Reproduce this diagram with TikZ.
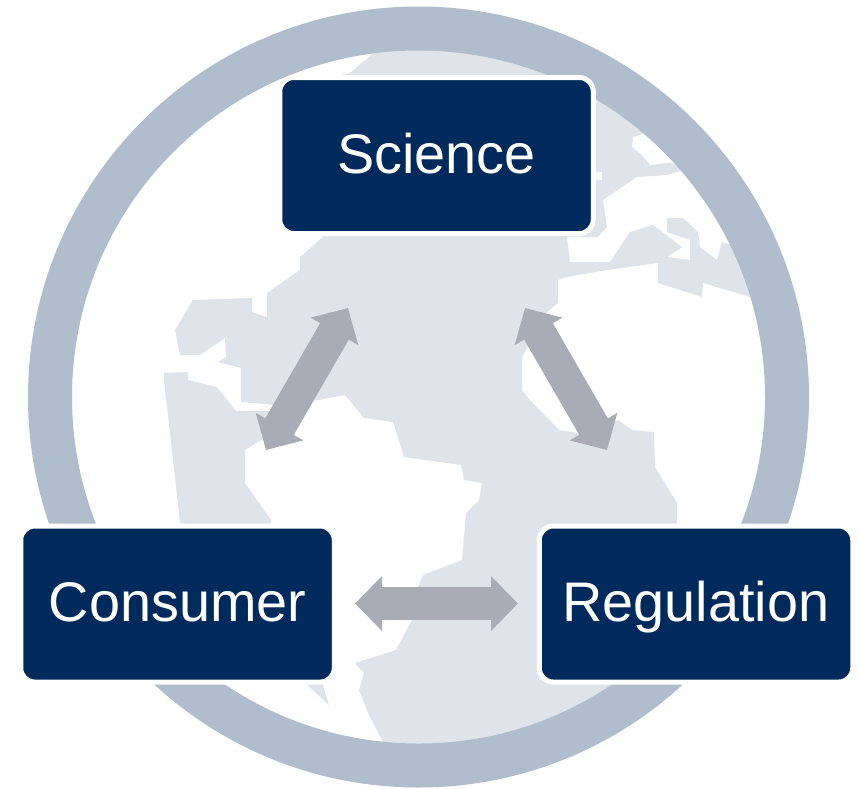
\documentclass[tikz,border=0pt]{standalone}
\usepackage{fontspec}
\setmainfont{Liberation Sans}
\usetikzlibrary{arrows.meta}
\definecolor{ringc}{HTML}{AFBDCD}
\definecolor{landc}{HTML}{DFE4EB}
\definecolor{boxc}{HTML}{002A5C}
\definecolor{arrowc}{HTML}{A9ACB5}
\tikzset{
  x=1pt,y=-1pt,
  boxnode/.style={draw=white,line width=5pt,fill=boxc,rounded corners=14pt,text=white,inner sep=0pt,
    minimum width=313.5pt,minimum height=156pt,text height=40pt,text depth=5pt,
    font=\fontsize{55.8pt}{60pt}\selectfont},
  link/.style={draw=arrowc,line width=33pt,
    {Triangle[length=27pt,width=53.4pt,fill=arrowc]}-{Triangle[length=27pt,width=53.4pt,fill=arrowc]}},
  land/.style={fill=landc,draw=none}
}
\begin{document}
\begin{tikzpicture}
\useasboundingbox (0,0) rectangle (858,788);
\fill[white] (0,0) rectangle (858,788);
\begin{scope}
  \clip (418.5,397) circle[radius=347pt];
  % main land mass
  \path[land] (400,30) -- (720,30) -- (720,110) -- (633,137) -- (632,147) -- (642,155) -- (650,165) -- (667,163)
    -- (700,165) -- (667,175) -- (637,177) -- (625,185) -- (603,200) -- (607,227) -- (598,237) -- (567,237)
    -- (570,262) -- (610,262) -- (630,232) -- (653,225) -- (682,247) -- (667,257) -- (690,260) -- (690,240)
    -- (667,232) -- (667,218) -- (683,218) -- (698,232) -- (700,247) -- (717,260) -- (722,242) -- (765,255)
    -- (790,300) -- (750,297) -- (703,283) -- (702,297) -- (658,283) -- (658,263) -- (607,270) -- (567,277)
    -- (558,280) -- (558,303) -- (547,312) -- (522,357) -- (522,390) -- (530,400) -- (559,430) -- (579,433)
    -- (618,420) -- (632,430) -- (654,432) -- (655,467) -- (677,503) -- (677,540) -- (700,690) -- (600,800)
    -- (382,800) -- (382,740) -- (368,713) -- (359,690) -- (364,673) -- (355,663) -- (396,650) -- (412,620)
    -- (418,587) -- (423,575) -- (462,560) -- (466,513) -- (479,500) -- (482,483) -- (464,480) -- (461,465)
    -- (404,457) -- (393,422) -- (364,418) -- (345,395) -- (318,400) -- (275,405) -- (241,402) -- (241,368)
    -- (218,362) -- (226,357) -- (225,338) -- (200,355) -- (180,355) -- (175,330) -- (193,300) -- (252,298)
    -- (252,312) -- (267,317) -- (267,293) -- (300,270) -- (300,257) -- (323,237) -- (340,75) -- (350,73) -- cycle;
  % left land block
  \path[land] (164,373) -- (188,372) -- (188,380) -- (217,387) -- (236,411) -- (285,411) -- (261,440)
    -- (245,450) -- (245,483) -- (271,520) -- (271,540) -- (182,540) -- (164,380) -- cycle;
  % small sliver below the left box
  \path[land] (304,682) -- (322,682) -- (329,705) -- cycle;
  % small spot beside the top box
  \fill[white] (595,172) rectangle (602,180);
\end{scope}
\draw[ringc,line width=44pt] (418.5,397) circle[radius=368.5pt];
\node[boxnode] (science) at (436.5,155.5) {Science};
\node[boxnode] (consumer) at (177.5,604) {Consumer};
\node[boxnode] (regulation) at (696,604) {Regulation};
\coordinate (scL) at (348,308);
\coordinate (coU) at (266,450);
\coordinate (scR) at (525,308);
\coordinate (reU) at (607,450);
\coordinate (coR) at (355,603.5);
\coordinate (reL) at (518,603.5);
\draw[link] (scL) -- (coU);
\draw[link] (scR) -- (reU);
\draw[link] (coR) -- (reL);
\end{tikzpicture}
\end{document}
